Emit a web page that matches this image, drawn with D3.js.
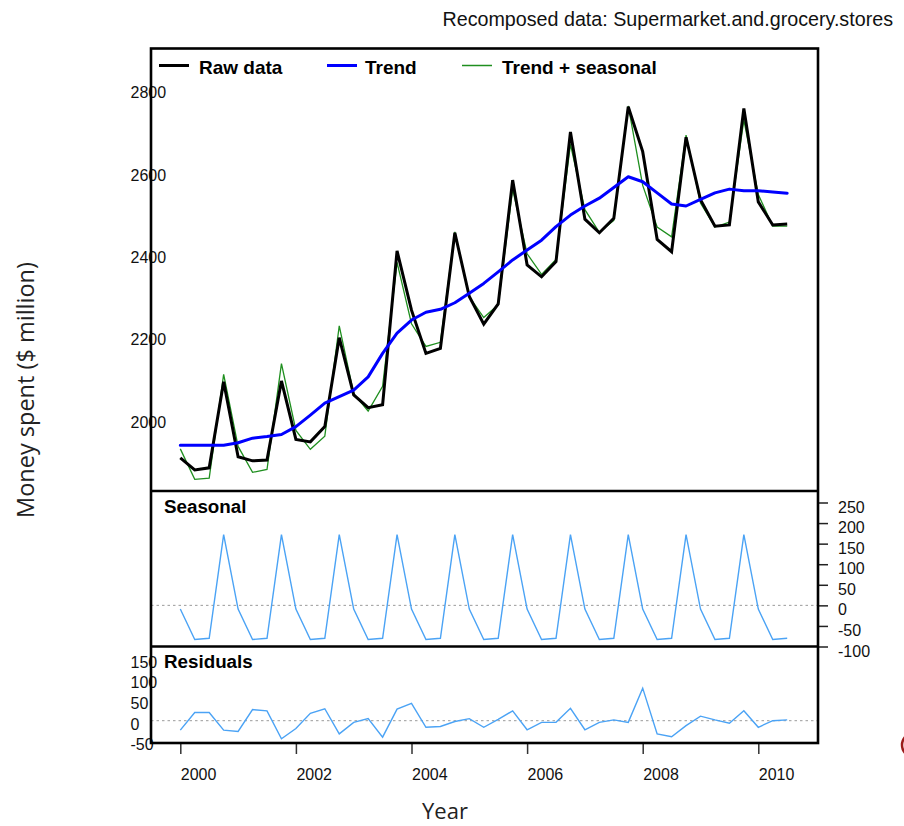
<!DOCTYPE html>
<html>
<head>
<meta charset="utf-8">
<script src="https://cdn.jsdelivr.net/npm/d3@7/dist/d3.min.js"></script>
<style>
  html, body { margin: 0; padding: 0; background: #fff; }
  svg { display: block; }
</style>
</head>
<body>
<svg id="chart" width="904" height="826"></svg>
<script>
// Quarterly series, 2000 Q1 .. 2010 Q3
const startYear = 2000;
const rawData = [
  1912, 1883, 1888, 2097, 1915, 1905, 1907, 2099, 1957, 1951, 1988, 2204,
  2065, 2034, 2041, 2415, 2271, 2166, 2178, 2459, 2304, 2237, 2286, 2587,
  2381, 2352, 2389, 2704, 2492, 2459, 2494, 2765, 2656, 2443, 2413, 2691,
  2539, 2475, 2478, 2761, 2534, 2478, 2480
];
const trend = [
  1943, 1943, 1943, 1943, 1949, 1960, 1964, 1969, 1988, 2016, 2045, 2061,
  2077, 2109, 2166, 2215, 2247, 2266, 2273, 2289, 2312, 2336, 2364, 2393,
  2417, 2441, 2474, 2502, 2524, 2543, 2569, 2595, 2583, 2556, 2529, 2524,
  2540, 2556, 2565, 2561, 2561, 2558, 2555
];
const seasonal = [
  -9, -83, -80, 172, -9, -83, -80, 172, -9, -83, -80, 172,
  -9, -83, -80, 172, -9, -83, -80, 172, -9, -83, -80, 172,
  -9, -83, -80, 172, -9, -83, -80, 172, -9, -83, -80, 172,
  -9, -83, -80, 172, -9, -83, -80
];
const residuals = [
  -23, 20, 20, -23, -26, 27, 24, -44, -19, 18, 29, -32,
  -4, 5, -40, 28, 42, -16, -14, -2, 5, -16, 3, 24,
  -22, -4, -4, 30, -22, -4, 2, -4, 79, -32, -39, -12,
  11, 2, -6, 24, -16, 0, 2
];
const yearTicks = [2000, 2002, 2004, 2006, 2008, 2010];
const mainTicks = [2000, 2200, 2400, 2600, 2800];
const seasonalTicks = [-100, -50, 0, 50, 100, 150, 200, 250];
const residualTicks = [-50, 0, 50, 100, 150];
const legendItems = ["Raw data", "Trend", "Trend + seasonal"];
const legendColors = ["#000000", "#0000ff", "#1f8f1f"];

const t = i => startYear + i / 4;
const series = rawData.map((v, i) => ({
  t: t(i),
  raw: v,
  trend: trend[i],
  fitted: trend[i] + seasonal[i],
  seasonal: seasonal[i],
  resid: residuals[i]
}));

const svg = d3.select("#chart");
const left = 151, right = 818;
const top1 = 48.5, bot1 = 491, bot2 = 646.5, bot3 = 743;

const x = d3.scaleLinear()
  .domain([startYear - 29.3 / 57.8, startYear + (right - 180.3) / 57.8])
  .range([left, right]);

const yMain = d3.scaleLinear().domain([1831.7, 2906.6]).range([bot1, top1]);
const ySeas = d3.scaleLinear().domain([-100, 250]).range([bot2, 502.5]);
const yRes = d3.scaleLinear().domain([0, 150]).range([720.7, 658.9]);

const tickFont = "'Liberation Sans', Arial, sans-serif";
const boldFont = "'Liberation Sans', Arial, sans-serif";
// plain hyphen for negatives
const fmt = d => String(d);

// Zero reference lines
[[ySeas, 0], [yRes, 0]].forEach(([sc, v]) => {
  svg.append("line")
    .attr("x1", left).attr("x2", right)
    .attr("y1", sc(v)).attr("y2", sc(v))
    .attr("stroke", "#9a9a9a").attr("stroke-width", 1)
    .attr("stroke-dasharray", "2.5,3");
});

// Main panel lines
const lineOf = (key, sc) => d3.line().x(d => x(d.t)).y(d => sc(d[key]));

svg.append("path").datum(series)
  .attr("d", lineOf("fitted", yMain))
  .attr("fill", "none").attr("stroke", legendColors[2]).attr("stroke-width", 1.3);

svg.append("path").datum(series)
  .attr("d", lineOf("raw", yMain))
  .attr("fill", "none").attr("stroke", legendColors[0]).attr("stroke-width", 3);

svg.append("path").datum(series)
  .attr("d", lineOf("trend", yMain))
  .attr("fill", "none").attr("stroke", legendColors[1]).attr("stroke-width", 3)
  .attr("stroke-linejoin", "round").attr("stroke-linecap", "round");

// Seasonal and residual components
svg.append("path").datum(series)
  .attr("d", lineOf("seasonal", ySeas))
  .attr("fill", "none").attr("stroke", "#4ba3f5").attr("stroke-width", 1.4);

svg.append("path").datum(series)
  .attr("d", lineOf("resid", yRes))
  .attr("fill", "none").attr("stroke", "#4ba3f5").attr("stroke-width", 1.4);

// Left axes (labels only, overlapping the frame)
function leftLabels(sc, ticks, dy) {
  const g = svg.append("g").attr("transform", `translate(${left},0)`)
    .call(d3.axisLeft(sc).tickValues(ticks).tickSize(0).tickFormat(fmt));
  g.select(".domain").remove();
  g.selectAll("text")
    .attr("x", 130.5 - left).attr("dy", dy)
    .attr("text-anchor", "start")
    .attr("dominant-baseline", "central")
    .style("font-family", tickFont).style("font-size", "16px").attr("fill", "#111");
}
leftLabels(yMain, mainTicks, 0);
leftLabels(yRes, residualTicks, 2.8);

// Right axis of the seasonal panel
const gs = svg.append("g").attr("transform", `translate(${right},0)`)
  .call(d3.axisRight(ySeas).tickValues(seasonalTicks).tickSize(10).tickFormat(fmt));
gs.select(".domain").remove();
gs.selectAll("line").attr("stroke", "#222").attr("stroke-width", 1.5);
gs.selectAll("text")
  .attr("x", 20).attr("dy", 4)
  .attr("dominant-baseline", "central")
  .style("font-family", tickFont).style("font-size", "16px").attr("fill", "#111");

// Bottom time axis
const gx = svg.append("g").attr("transform", `translate(0,${bot3})`)
  .call(d3.axisBottom(x).tickValues(yearTicks).tickSize(11).tickFormat(fmt));
gx.select(".domain").remove();
gx.selectAll("line").attr("stroke", "#333").attr("stroke-width", 1.5);
gx.selectAll("text")
  .attr("y", 31).attr("dy", 0)
  .attr("text-anchor", "start")
  .attr("dominant-baseline", "central")
  .style("font-family", tickFont).style("font-size", "16px").attr("fill", "#111");

// Frame and panel dividers
svg.append("rect")
  .attr("x", left).attr("y", top1)
  .attr("width", right - left).attr("height", bot3 - top1)
  .attr("fill", "none").attr("stroke", "#000").attr("stroke-width", 2.6);
[bot1, bot2].forEach(yy => {
  svg.append("line").attr("x1", left).attr("x2", right)
    .attr("y1", yy).attr("y2", yy)
    .attr("stroke", "#000").attr("stroke-width", 2.6);
});

// Legend
const legendX = [159, 327, 462];
legendItems.forEach((name, i) => {
  svg.append("line")
    .attr("x1", legendX[i]).attr("x2", legendX[i] + 30)
    .attr("y1", 65.5).attr("y2", 65.5)
    .attr("stroke", legendColors[i])
    .attr("stroke-width", i === 2 ? 1.5 : 3);
  svg.append("text")
    .attr("x", legendX[i] + (i === 1 ? 38 : 40)).attr("y", 67.5)
    .attr("dominant-baseline", "central")
    .style("font-family", boldFont).style("font-size", "19px").style("font-weight", "bold")
    .text(name);
});

// Panel titles
[["Seasonal", 506], ["Residuals", 661]].forEach(([name, yy]) => {
  svg.append("text")
    .attr("x", 164).attr("y", yy)
    .attr("dominant-baseline", "central")
    .style("font-family", boldFont).style("font-size", "18.8px").style("font-weight", "bold")
    .text(name);
});

// Chart title
svg.append("text")
  .attr("x", 893).attr("y", 18.5)
  .attr("text-anchor", "end")
  .attr("dominant-baseline", "central")
  .style("font-family", tickFont).style("font-size", "19.7px").attr("fill", "#111")
  .text("Recomposed data: Supermarket.and.grocery.stores");

// Axis titles
svg.append("text")
  .attr("x", 445).attr("y", 810)
  .attr("text-anchor", "middle")
  .attr("dominant-baseline", "central")
  .style("font-family", "'Open Sans', sans-serif").style("font-size", "22px").attr("fill", "#222")
  .text("Year");

svg.append("text")
  .attr("transform", "translate(25,390) rotate(-90)")
  .attr("text-anchor", "middle")
  .attr("dominant-baseline", "central")
  .style("font-family", "'Open Sans', sans-serif").style("font-size", "23.5px").attr("fill", "#222")
  .text("Money spent ($ million)");

// Edge mark at the right margin
svg.append("circle")
  .attr("cx", 914).attr("cy", 745).attr("r", 12)
  .attr("fill", "none").attr("stroke", "#9b1b1b").attr("stroke-width", 2.5);
</script>
</body>
</html>
